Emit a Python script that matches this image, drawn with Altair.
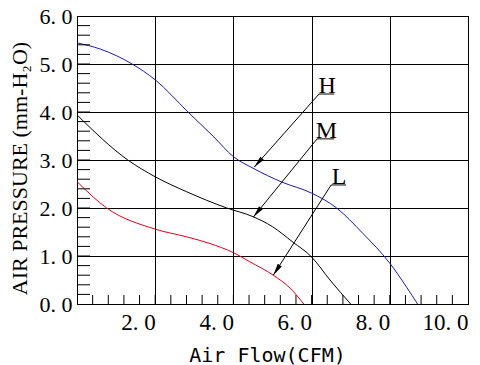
import math
import altair as alt
import pandas as pd

# ---- data ----
h_flow = [0.0, 0.6, 1.41, 2.0, 2.84, 3.5, 4.0, 4.5, 5.24, 6.0, 6.64, 7.3, 8.0, 8.43, 8.71]
h_pres = [5.44, 5.31, 5.0, 4.67, 4.0, 3.48, 3.07, 2.83, 2.54, 2.31, 2.0, 1.48, 0.85, 0.35, 0.0]

m_flow = [0.0, 1.3, 2.0, 2.8, 3.83, 4.5, 5.0, 5.52, 6.0, 6.47, 7.0]
m_pres = [3.94, 3.0, 2.65, 2.34, 2.0, 1.82, 1.61, 1.29, 0.98, 0.5, 0.0]

l_flow = [0.0, 0.76, 2.0, 2.8, 3.4, 4.0, 4.42, 5.02, 5.45, 5.8]
l_pres = [2.55, 2.0, 1.56, 1.40, 1.26, 1.07, 0.88, 0.60, 0.33, 0.0]

series_names = ["H", "M", "L"]
series_colors = ["#1c1ca8", "#000000", "#e0001c"]

# annotation labels
ann_label = ["H", "M", "L"]
ann_text_x = [6.40, 6.38, 6.70]
ann_line_x1 = [6.19, 6.14, 6.50]
ann_line_x2 = [6.58, 6.58, 6.88]
ann_line_y = [4.375, 3.44, 2.48]
ann_tip_x = [4.53, 4.51, 5.02]
ann_tip_y = [2.85, 1.81, 0.60]

x_grid = [2, 4, 6, 8, 10]
y_grid = [0, 1, 2, 3, 4, 5, 6]
x_minor = [round(0.4 * i, 1) for i in range(1, 25)]
y_minor = [round(0.2 * i, 1) for i in range(1, 30)]

W, H = 391, 288
X_MAX, Y_MAX = 10, 6

# ---- tables ----
rows = []
for name, fx, py in zip(series_names, [h_flow, m_flow, l_flow], [h_pres, m_pres, l_pres]):
    for a, b in zip(fx, py):
        rows.append({"flow": a, "pres": b, "fan": name})
curves = pd.DataFrame(rows)

ann = pd.DataFrame({
    "label": ann_label,
    "tx": ann_text_x,
    "x1": ann_line_x1,
    "x2": ann_line_x2,
    "ly": ann_line_y,
    "tipx": ann_tip_x,
    "tipy": ann_tip_y,
})
ang = []
for x1, ly, tx, ty in zip(ann_line_x1, ann_line_y, ann_tip_x, ann_tip_y):
    dx = (tx - x1) * W / X_MAX
    dy = -(ty - ly) * H / Y_MAX
    a = math.degrees(math.atan2(dx, -dy)) % 360
    ang.append(a)
ann["angle"] = ang

xs = alt.Scale(domain=[0, X_MAX], nice=False, zero=False)
ys = alt.Scale(domain=[0, Y_MAX], nice=False, zero=False)

x_axis = alt.Axis(
    values=x_grid, grid=True, gridColor="black", gridOpacity=1, gridWidth=1,
    domain=True, domainColor="black", domainWidth=1, ticks=False,
    labelFont="Liberation Serif", labelFontSize=23, labelColor="black",
    labelAlign="right", labelFlush=False, labelOverlap=False, labelPadding=7,
    labelExpr="replace(format(datum.value, '.1f'), '.', '. ')",
    title="Air Flow(CFM)", titleFont="DejaVu Sans Mono", titleFontSize=20,
    titleFontWeight="normal", titleColor="black", titleX=190, titleY=57,
    titleBaseline="alphabetic", titleAlign="center",
)
y_axis = alt.Axis(
    values=y_grid, grid=True, gridColor="black", gridOpacity=1, gridWidth=1,
    domain=True, domainColor="black", domainWidth=1, ticks=False,
    labelFont="Liberation Serif", labelFontSize=22, labelColor="black",
    labelAlign="right", labelBaseline="middle", labelFlush=False,
    labelOverlap=False, labelPadding=5,
    labelExpr="replace(format(datum.value, '.1f'), '.', '. ')",
    title="AIR PRESSURE (mm-H\u2082O)", titleFont="Liberation Serif",
    titleFontSize=22, titleFontWeight="normal", titleColor="black",
    titleX=-51, titleY=152, titleAngle=270, titleBaseline="alphabetic",
    titleAlign="center",
)

lines = alt.Chart(curves).mark_line(interpolate="monotone", strokeWidth=1).encode(
    x=alt.X("flow:Q", scale=xs, axis=x_axis),
    y=alt.Y("pres:Q", scale=ys, axis=y_axis),
    color=alt.Color("fan:N", scale=alt.Scale(domain=series_names, range=series_colors), legend=None),
    detail="fan:N",
)

xt = alt.Chart(pd.DataFrame({"v": x_minor})).mark_rule(color="black", strokeWidth=1).encode(
    x=alt.X("v:Q", scale=xs, axis=x_axis), y=alt.value(H), y2=alt.value(H - 9)
)
yt = alt.Chart(pd.DataFrame({"v": y_minor})).mark_rule(color="black", strokeWidth=1).encode(
    y=alt.Y("v:Q", scale=ys, axis=y_axis), x=alt.value(0), x2=alt.value(13)
)

base = alt.Chart(ann)
underline = base.mark_rule(color="black", strokeWidth=1).encode(
    x=alt.X("x1:Q", scale=xs, axis=x_axis), x2="x2:Q", y=alt.Y("ly:Q", scale=ys, axis=y_axis)
)
leader = base.mark_rule(color="black", strokeWidth=1).encode(
    x=alt.X("x1:Q", scale=xs, axis=x_axis), y=alt.Y("ly:Q", scale=ys, axis=y_axis),
    x2="tipx:Q", y2="tipy:Q",
)
heads = base.mark_point(
    shape="M0,0L-0.4,2L0.4,2Z", filled=True, color="black", opacity=1, size=144, strokeWidth=0
).encode(
    x=alt.X("tipx:Q", scale=xs, axis=x_axis), y=alt.Y("tipy:Q", scale=ys, axis=y_axis),
    angle=alt.Angle("angle:Q", scale=None),
)
labels = base.mark_text(
    font="Liberation Serif", fontSize=24, color="black", baseline="alphabetic", align="center", dy=-1
).encode(
    x=alt.X("tx:Q", scale=xs, axis=x_axis), y=alt.Y("ly:Q", scale=ys, axis=y_axis), text="label:N"
)

chart = alt.layer(lines, xt, yt, underline, leader, heads, labels).properties(
    width=W, height=H,
    background="white",
    autosize=alt.AutoSizeParams(type="none"),
    padding={"left": 69, "top": 8, "right": 4, "bottom": 61},
).configure_view(stroke="black", strokeWidth=1).configure_axis(
    titleFontWeight="normal", labelFontWeight="normal"
)

chart.save("out.html", embed_options={"renderer": "svg", "actions": False})
